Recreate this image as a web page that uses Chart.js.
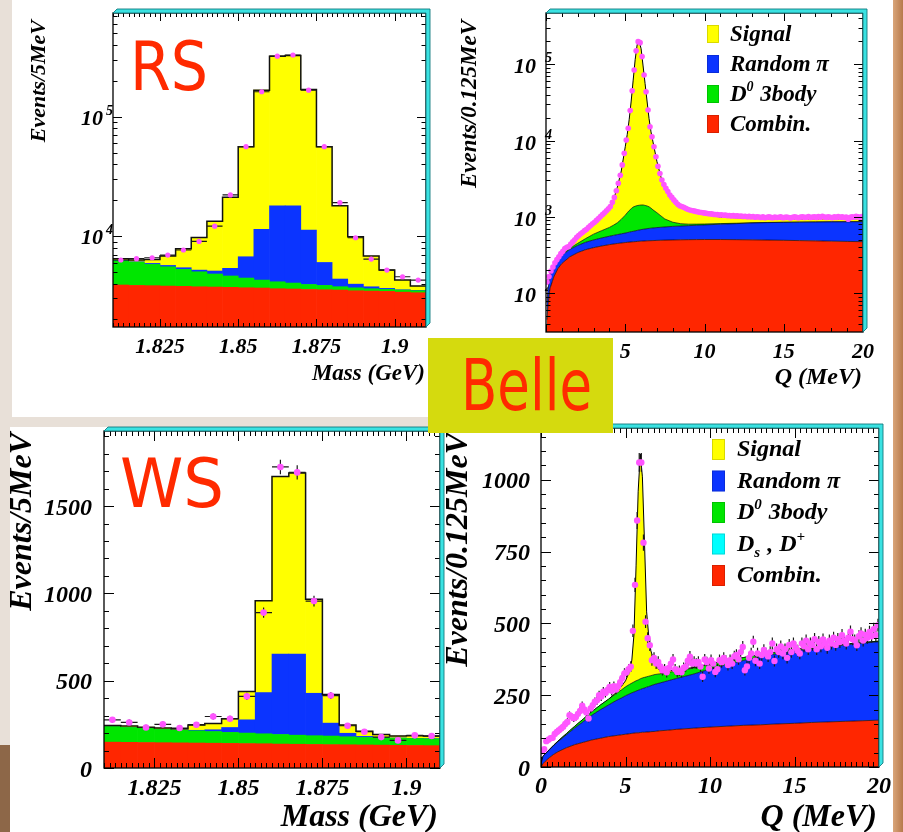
<!DOCTYPE html>
<html><head><meta charset="utf-8"><title>Belle RS / WS D*+ fits</title>
<script src="https://cdn.jsdelivr.net/npm/chart.js@4.4.1/dist/chart.umd.min.js"></script>
<style>
html,body{margin:0;padding:0}
body{width:903px;height:832px;position:relative;overflow:hidden;background:#e8e0d8}
.bg{position:absolute}
canvas{position:absolute;left:0;top:0}
</style></head>
<body>
<div class="bg" style="left:893px;top:0;width:10px;height:832px;background:linear-gradient(90deg,#d9a57a,#b77a4c)"></div>
<div class="bg" style="left:0;top:745px;width:10px;height:87px;background:#8d6748"></div>
<div class="bg" style="left:12px;top:0;width:881px;height:417px;background:#fff"></div>
<div class="bg" style="left:10px;top:427px;width:435px;height:405px;background:#fff"></div>
<div class="bg" style="left:445px;top:413px;width:448px;height:419px;background:#fff"></div>
<canvas id="cA" width="903" height="832"></canvas>
<canvas id="cB" width="903" height="832"></canvas>
<canvas id="cC" width="903" height="832"></canvas>
<canvas id="cD" width="903" height="832"></canvas>
<script>
// ================= categories / tick labels =================
const massBins = [1.8125,1.8175,1.8225,1.8275,1.8325,1.8375,1.8425,1.8475,1.8525,1.8575,1.8625,1.8675,1.8725,1.8775,1.8825,1.8875,1.8925,1.8975,1.9025,1.9075];
const massBinWidth = 0.005;
const qBinWidth = 0.125;
const qBinCount = 160;
const qBins = Array.from({length:qBinCount}, (_,i)=>+(qBinWidth*(i+0.5)).toFixed(4));

const massTickValues = [1.825,1.85,1.875,1.9];
const massTickLabels = ['1.825','1.85','1.875','1.9'];
const qTickValues = [0,5,10,15,20];
const qTickLabels = ['0','5','10','15','20'];
const rsMassYTicks = [1e4,1e5];
const rsMassYLabels = ['10^{4}','10^{5}'];
const rsQYTicks = [1e2,1e3,1e4,1e5];
const rsQYLabels = ['10^{2}','10^{3}','10^{4}','10^{5}'];
const wsMassYTicks = [0,500,1000,1500];
const wsMassYLabels = ['0','500','1000','1500'];
const wsQYTicks = [0,250,500,750,1000];
const wsQYLabels = ['0','250','500','750','1000'];
const rsLegendLabels = ['Signal','Random π','D^{0} 3body','Combin.'];
const wsLegendLabels = ['Signal','Random π','D^{0} 3body','D_{s} , D^{+}','Combin.'];

// ================= RS mass (events / 5 MeV) =================
const rsMassCombin   = [3890,3860,3840,3810,3790,3760,3740,3720,3690,3670,3620,3600,3570,3550,3530,3480,3460,3440,3390,3350];
const rsMassD03body  = [2330,2190,1950,1720,1470,1260,1070,910,760,610,520,440,360,310,235,205,160,135,133,132];
const rsMassRandomPi = [40,40,110,145,170,165,285,735,2260,7090,13800,13900,7290,2150,600,270,140,70,25,22];
const rsMassSignal   = [205,205,470,1120,2400,4560,8190,15740,49400,155600,304000,308000,157800,50100,13600,5900,3040,1550,730,305];
const rsMassData     = [6300,6460,6580,6930,7640,9020,12100,22100,56100,162000,322000,329000,167000,56100,19100,9680,6410,5190,4560,4280];

// ================= WS mass (events / 5 MeV) =================
const wsMassCombin   = [148,147,146,145,144,143,142,141,140,139,137,136,135,134,133,132,131,130,129,128];
const wsMassD03body  = [90,85,81,76,73,70,67,63,60,57,55,52,50,49,46,43,42,41,40,39];
const wsMassRandomPi = [0,0,0,1,1,3,10,28,76,236,461,465,243,74,20,6,3,1,1,1];
const wsMassSignal   = [5,8,7,7,7,30,36,50,162,526,1017,1036,538,164,47,30,16,11,15,15];
const wsMassData     = [276,261,232,250,229,248,295,282,410,890,1724,1693,956,415,242,208,177,158,187,183];

// ================= RS Q (events / 0.125 MeV), fit components at Q nodes =================
const rsQNodes    = [0.0625,0.125,0.25,0.5,0.75,1,1.5,2,2.5,3,3.5,4,4.25,4.5,4.75,5,5.125,5.25,5.375,5.5,5.625,5.75,5.875,6,6.125,6.25,6.375,6.5,6.625,6.75,7,7.25,7.5,8,8.5,9,9.5,10,11,12,13,14,15,16,17,18,19,20];
const rsQCombin   = [45,70,115,165,210,245,300,340,372,395,415,433,441,448,455,461,464,467,470,472,474,477,479,481,483,484,486,487,488,489,492,494,496,499,501,503,504,505,505,503,500,497,493,489,485,481,477,473];
const rsQRandomPi = [30,45,55,60,65,70,74,82,93,104,114,125,131,138,145,153,158,164,170,175,181,188,194,200,205,210,215,220,224,227,232,237,242,252,258,265,272,280,297,313,332,345,355,364,372,380,386,392];
const rsQD03body  = [0,0,1,2,4,7,14,28,55,95,130,170,205,250,330,440,510,580,640,700,725,740,748,750,745,720,690,650,590,520,410,300,200,100,55,35,28,22,15,10,6,4,3,2,2,1,1,1];
const rsQSignal   = [55,37,9,10,9,20,37,105,155,236,381,592,873,1610,3070,7250,10870,17790,31720,60650,113600,178600,198600,158600,93570,54590,31610,18140,11700,8360,4170,2320,1560,880,570,440,350,270,180,150,120,100,90,85,85,85,80,85];
const rsQData = [
  140,165,195,220,250,275,300,330,
  355,385,400,410,440,470,500,540,
  570,600,630,660,690,730,770,810,
  850,900,950,1010,1070,1130,1200,1280,
  1370,1550,1800,2200,2750,3500,4800,6800,
  10200,14500,24700,45000,84000,150000,198000,192000,
  126000,72400,43700,25200,15200,11200,8300,6150,
  4600,3700,3050,2650,2370,2150,1940,1800,
  1670,1560,1460,1400,1370,1340,1300,1260,
  1230,1210,1200,1180,1170,1150,1140,1130,
  1120,1110,1100,1095,1080,1075,1070,1060,
  1065,1050,1055,1040,1045,1030,1040,1025,
  1030,1020,1025,1010,1020,1005,1015,1000,
  1010,990,1005,995,980,1000,975,990,
  1000,985,975,995,980,990,1000,975,
  985,995,980,970,990,1000,985,975,
  995,1005,985,990,1010,980,995,1000,
  985,1010,990,1020,995,985,1005,990,
  975,1000,985,1010,990,1000,980,995,
  930,985,1005,990,1015,1000,990,1010];

// ================= WS Q (events / 0.125 MeV) =================
const wsQNodes    = [0,0.125,0.25,0.5,0.75,1,1.5,2,2.5,3,3.5,4,4.5,4.75,5,5.25,5.375,5.5,5.625,5.75,5.875,6,6.125,6.25,6.375,6.5,6.75,7,7.5,8,9,10,11,12,13,14,15,16,17,18,19,20];
const wsQCombin   = [0,12,20,33,44,53,67,78,86,94,100,106,110,112,114,116,117,118,119,119,120,121,121,122,122,123,124,126,128,131,135,139,142,145,147,150,152,155,157,159,161,163];
const wsQRandomPi = [10,26,25,27,31,35,45,58,72,86,99,110,123,128,134,139,141,143,145,148,150,152,154,156,158,160,164,166,172,177,188,202,215,226,237,245,252,256,261,266,270,273];
const wsQD03body  = [0,0,0,1,1,2,4,6,9,12,16,20,25,28,31,33,34,35,36,36,37,37,37,36,36,35,34,32,29,26,21,17,13,10,8,6,5,4,3,3,2,2];
const wsQDsDplus  = [0,0,0,0,0,0,0,0,0,0,0,0,0,0,0,0,0,0,0,0,0,0,0,0,0,0,0,0,0,0,0,0,0,0,0,0,0,0,0,0,0,0];
const wsQSignal   = [0,0,0,0,0,0,0,0,0,0,0,0,4,12,21,47,80,164,400,657,783,700,468,226,139,87,33,14,6,4,2,1,0,0,0,0,0,0,0,0,0,0];
const wsQData = [
  55,62,90,95,100,102,115,122,
  128,134,140,150,157,180,175,170,
  174,185,195,213,200,190,169,204,
  215,227,232,250,245,262,258,268,
  279,265,281,270,281,295,310,326,
  330,340,349,474,634,858,1060,1060,
  781,506,448,424,372,380,360,366,
  350,337,340,330,345,360,374,340,
  331,335,330,345,350,370,384,360,
  366,360,366,350,314,374,365,343,
  372,360,331,340,372,365,380,370,
  355,372,360,385,390,375,400,418,
  337,350,380,395,436,370,395,360,
  390,407,395,385,400,430,369,410,
  400,420,395,410,380,425,400,430,
  415,405,395,430,420,440,410,430,
  425,445,410,435,420,444,430,415,
  440,430,450,425,445,435,459,440,
  430,450,471,445,440,424,455,465,
  440,460,450,470,455,480,460,494];

// ================= styles =================
const YELLOW='#ffff00', BLUE='#0b34ff', GREEN='#00e600', RED='#ff2600', CYAN='#00ffff', MAGENTA='#ff55ff', HANDRED='#ff2a00';
const SERIF='"Liberation Serif","DejaVu Serif",serif';
const HAND='"DejaVu Sans",sans-serif';
const W=903, H=832;
function fnt(sz){ return `italic bold ${sz}px ${SERIF}`; }
function xy(xs, ys){ return xs.map((x,i)=>({x, y: ys[i]})); }

function parseRich(s){
  const out=[]; let i=0, buf='';
  while(i<s.length){
    const c=s[i];
    if((c==='^'||c==='_') && s[i+1]==='{'){
      if(buf){out.push({t:buf,m:0}); buf='';}
      const j=s.indexOf('}',i);
      out.push({t:s.slice(i+2,j), m: c==='^'?1:-1}); i=j+1;
    } else { buf+=c; i++; }
  }
  if(buf) out.push({t:buf,m:0});
  return out;
}
function drawRich(ctx, s, x, y, size){
  let cx=x;
  for(const g of parseRich(s)){
    const sz = g.m ? Math.round(size*0.62) : size;
    ctx.font = fnt(sz);
    const dy = g.m===1 ? -size*0.40 : (g.m===-1 ? size*0.28 : 0);
    ctx.fillText(g.t, cx, y+dy);
    cx += ctx.measureText(g.t).width + (g.m ? 1 : 0);
  }
}
function linTicks(min, max, step, majors){
  const out=[]; const k0=Math.ceil(min/step-1e-6), k1=Math.floor(max/step+1e-6);
  for(let k=k0;k<=k1;k++){ const v=k*step; out.push([v, majors.some(m=>Math.abs(m-v)<step*1e-3)]); }
  majors.forEach(m=>{ if(!out.some(t=>Math.abs(t[0]-m)<step*1e-3)) out.push([m,true]); });
  return out;
}
function logTicks(min, max){
  const out=[];
  for(let e=Math.floor(Math.log10(min)); e<=Math.ceil(Math.log10(max)); e++)
    for(let k=1;k<=9;k++){ const v=k*Math.pow(10,e); if(v>=min && v<=max) out.push([v, k===1]); }
  return out;
}
function drawHand(ctx, h){
  ctx.save();
  ctx.font = `${h.size}px ${HAND}`;
  const w = ctx.measureText(h.text).width;
  ctx.translate(h.x, h.base); ctx.scale(h.width/w, 1);
  ctx.fillStyle = h.color || HANDRED; ctx.textAlign='left'; ctx.textBaseline='alphabetic';
  ctx.fillText(h.text, 0, 0);
  ctx.restore();
}

function makeRootPlugin(o){
  return {
    id: 'rootStyle',
    beforeDatasetsDraw(chart){
      const ctx=chart.ctx, xs=chart.scales.x, ys=chart.scales.y;
      ctx.save(); ctx.fillStyle='#000'; ctx.textBaseline='alphabetic';
      ctx.font=fnt(o.tickFont); ctx.textAlign='center';
      o.xTicks.forEach((v,i)=>ctx.fillText(o.xLabels[i], xs.getPixelForValue(v), o.xLabelBase));
      o.yTicks.forEach((v,i)=>{
        const py=ys.getPixelForValue(v), segs=parseRich(o.yLabels[i]);
        ctx.font=fnt(o.tickFont); ctx.textAlign='right';
        ctx.fillText(segs[0].t, o.yLabelRight, py+o.yLabelDy);
        if(segs[1]){ ctx.font=fnt(o.expFont); ctx.textAlign='left'; ctx.fillText(segs[1].t, o.expX, py+o.expDy); }
      });
      ctx.restore();
    },
    afterDatasetsDraw(chart){
      const ctx=chart.ctx, a=chart.chartArea, xs=chart.scales.x, ys=chart.scales.y;
      ctx.save();
      ctx.strokeStyle='#000'; ctx.lineWidth=1; ctx.beginPath();
      linTicks(xs.min, xs.max, o.xMinor, o.xTicks).forEach(([v,maj])=>{
        const px=Math.round(xs.getPixelForValue(v))+0.5, L=maj?o.xMaj:o.xMin;
        ctx.moveTo(px,a.bottom); ctx.lineTo(px,a.bottom-L);
        ctx.moveTo(px,a.top); ctx.lineTo(px,a.top+L);
      });
      const yt = o.yLog ? logTicks(ys.min, ys.max) : linTicks(ys.min, ys.max, o.yMinor, o.yTicks);
      yt.forEach(([v,maj])=>{
        const py=Math.round(ys.getPixelForValue(v))+0.5, L=maj?o.yMaj:o.yMin;
        ctx.moveTo(a.left,py); ctx.lineTo(a.left+L,py);
        ctx.moveTo(a.right,py); ctx.lineTo(a.right-L,py);
      });
      ctx.stroke();
      ctx.lineWidth=1.3; ctx.strokeRect(a.left, a.top, a.right-a.left, a.bottom-a.top);
      const d=4;
      ctx.beginPath();
      ctx.moveTo(a.left,a.top); ctx.lineTo(a.left+d,a.top-d); ctx.lineTo(a.right+d,a.top-d);
      ctx.lineTo(a.right+d,a.bottom-d); ctx.lineTo(a.right,a.bottom); ctx.lineTo(a.right,a.top); ctx.closePath();
      ctx.fillStyle='#3ae2e2'; ctx.fill();
      ctx.strokeStyle='#137a80'; ctx.lineWidth=0.9; ctx.stroke();
      if(o.legend){
        const L=o.legend;
        ctx.textAlign='left'; ctx.textBaseline='alphabetic';
        L.items.forEach((it,i)=>{
          const top=L.top+i*L.dy;
          ctx.fillStyle=it.color; ctx.fillRect(L.x, top, L.w, L.h);
          ctx.strokeStyle='rgba(0,0,0,0.25)'; ctx.lineWidth=0.6; ctx.strokeRect(L.x+0.5, top+0.5, L.w-1, L.h-1);
          ctx.fillStyle='#000'; drawRich(ctx, it.label, L.tx, top+L.base, L.font);
        });
      }
      ctx.restore();
    },
    afterDraw(chart){
      const ctx=chart.ctx;
      ctx.save(); ctx.fillStyle='#000';
      ctx.font=fnt(o.yTitleFont);
      ctx.save(); ctx.translate(o.yTitleX, o.yTitleTop); ctx.rotate(-Math.PI/2);
      ctx.textAlign='right'; ctx.textBaseline='middle'; ctx.fillText(o.yTitle,0,0); ctx.restore();
      ctx.font=fnt(o.xTitleFont); ctx.textAlign='right'; ctx.textBaseline='alphabetic';
      ctx.fillText(o.xTitle, o.xTitleRight, o.xTitleBase);
      if(o.hand) drawHand(ctx, o.hand);
      if(o.belle){
        const b=o.belle;
        ctx.fillStyle='#d5da0e'; ctx.fillRect(b.x, b.y, b.w, b.h);
        drawHand(ctx, b.label);
      }
      ctx.restore();
    }
  };
}

const errorBarPlugin = {
  id: 'errorBars',
  beforeDatasetDraw(chart, args){
    const ds=chart.data.datasets[args.index];
    if(!ds.errorBars) return;
    const ctx=chart.ctx, xs=chart.scales.x, ys=chart.scales.y, a=chart.chartArea, eb=ds.errorBars;
    ctx.save(); ctx.beginPath(); ctx.rect(a.left,a.top,a.right-a.left,a.bottom-a.top); ctx.clip();
    ctx.strokeStyle='#1a1a1a'; ctx.lineWidth=eb.width||1.2; ctx.beginPath();
    ds.data.forEach(p=>{
      const px=xs.getPixelForValue(p.x), py=ys.getPixelForValue(p.y);
      if(eb.xHalf){ ctx.moveTo(xs.getPixelForValue(p.x-eb.xHalf), py); ctx.lineTo(xs.getPixelForValue(p.x+eb.xHalf), py); }
      if(eb.poisson){ const e=Math.sqrt(p.y); ctx.moveTo(px, ys.getPixelForValue(p.y-e)); ctx.lineTo(px, ys.getPixelForValue(p.y+e)); }
    });
    ctx.stroke(); ctx.restore();
  }
};

function baseOptions(area, xCfg, yCfg){
  return {
    responsive:false, animation:false, events:[], devicePixelRatio:1,
    layout:{padding:{left:area[0], top:area[1], right:W-area[2], bottom:H-area[3]}},
    scales:{ x:Object.assign({display:false, offset:false}, xCfg), y:Object.assign({display:false}, yCfg) },
    plugins:{legend:{display:false}, tooltip:{enabled:false}}
  };
}

function massChart(id, area, comps, data, yCfg, dotR, frame){
  const totals = massBins.map((_,i)=>comps.reduce((s,c)=>s+c.values[i],0));
  const edges = massBins.map(c=>c-massBinWidth/2).concat([massBins[massBins.length-1]+massBinWidth/2]);
  const outline = edges.map((x,i)=>({x, y: totals[Math.min(i,totals.length-1)]}));
  const datasets = comps.map(c=>({type:'bar', label:c.label, data:xy(massBins,c.values), backgroundColor:c.color,
    borderWidth:0, barPercentage:1, categoryPercentage:1, stack:'fit'}));
  datasets.push({type:'line', label:'Fit', data:outline, stepped:true, borderColor:'#111', borderWidth:1.5,
    pointRadius:0, fill:false, stack:'outline', order:-1});
  datasets.push({type:'line', label:'Data', data:xy(massBins,data), showLine:false, pointRadius:dotR,
    pointBackgroundColor:MAGENTA, pointBorderColor:MAGENTA, pointBorderWidth:0, stack:'data', order:-2,
    errorBars:{xHalf:massBinWidth/2, poisson:true}});
  return new Chart(document.getElementById(id), {
    type:'bar', data:{datasets},
    options: baseOptions(area, {type:'linear', min:1.81, max:1.91}, yCfg),
    plugins:[makeRootPlugin(frame), errorBarPlugin]
  });
}

function qChart(id, area, nodes, comps, data, yCfg, dotR, errBars, frame){
  const datasets = comps.map((c,i)=>({type:'line', label:c.label, data:xy(nodes,c.values),
    backgroundColor:c.color, borderColor:c.border||'rgba(0,0,0,0.65)', borderWidth:c.bw===undefined?1:c.bw,
    pointRadius:0, fill: i===0 ? (yCfg.type==='logarithmic'?'start':'origin') : '-1', stack:'fit', tension:0}));
  datasets.push({type:'line', label:'Data', data:xy(qBins,data), showLine:false, pointRadius:dotR,
    pointBackgroundColor:MAGENTA, pointBorderColor:MAGENTA, pointBorderWidth:0, stack:'data', order:-1,
    errorBars: errBars});
  return new Chart(document.getElementById(id), {
    type:'line', data:{datasets},
    options: baseOptions(area, {type:'linear', min:0, max:20}, yCfg),
    plugins:[makeRootPlugin(frame), errorBarPlugin]
  });
}

// ---------- Panel A : RS mass ----------
massChart('cA', [113,13,426,327], [
  {label:'Combin.', values:rsMassCombin, color:RED},
  {label:'D0 3body', values:rsMassD03body, color:GREEN},
  {label:'Random pi', values:rsMassRandomPi, color:BLUE},
  {label:'Signal', values:rsMassSignal, color:YELLOW}
], rsMassData, {type:'logarithmic', min:1730, max:740000}, 2.6, {
  xTicks:massTickValues, xLabels:massTickLabels, xMinor:0.025/15, xMaj:8, xMin:4,
  yTicks:rsMassYTicks, yLabels:rsMassYLabels, yLog:true, yMaj:9, yMin:4.5,
  tickFont:22, xLabelBase:353, yLabelRight:103, yLabelDy:8, expFont:14, expX:106, expDy:-2,
  yTitle:'Events/5MeV', yTitleX:39, yTitleTop:20, yTitleFont:22,
  xTitle:'Mass (GeV)', xTitleRight:425, xTitleBase:380, xTitleFont:23,
  hand:{text:'RS', x:130, base:90, size:68, width:78}
});

// ---------- Panel B : RS Q ----------
qChart('cB', [546,13,863,332], rsQNodes, [
  {label:'Combin.', values:rsQCombin, color:RED},
  {label:'Random pi', values:rsQRandomPi, color:BLUE},
  {label:'D0 3body', values:rsQD03body, color:GREEN},
  {label:'Signal', values:rsQSignal, color:YELLOW, border:'#000'}
], rsQData, {type:'logarithmic', min:31, max:470000}, 2.8, null, {
  xTicks:qTickValues, xLabels:qTickLabels, xMinor:1, xMaj:8, xMin:4,
  yTicks:rsQYTicks, yLabels:rsQYLabels, yLog:true, yMaj:9, yMin:4.5,
  tickFont:22, xLabelBase:358, yLabelRight:536, yLabelDy:9, expFont:14, expX:545, expDy:-2,
  yTitle:'Events/0.125MeV', yTitleX:470, yTitleTop:20, yTitleFont:23,
  xTitle:'Q (MeV)', xTitleRight:862, xTitleBase:384, xTitleFont:24,
  legend:{x:707, top:25, dy:30, w:12, h:18, tx:730, base:15.5, font:23,
    items:[YELLOW,BLUE,GREEN,RED].map((c,i)=>({color:c, label:rsLegendLabels[i]}))}
});

// ---------- Panel C : WS mass ----------
massChart('cC', [104,431,440,768], [
  {label:'Combin.', values:wsMassCombin, color:RED},
  {label:'D0 3body', values:wsMassD03body, color:GREEN},
  {label:'Random pi', values:wsMassRandomPi, color:BLUE},
  {label:'Signal', values:wsMassSignal, color:YELLOW}
], wsMassData, {type:'linear', min:0, max:1930}, 3.3, {
  xTicks:massTickValues, xLabels:massTickLabels, xMinor:0.025/15, xMaj:10, xMin:5,
  yTicks:wsMassYTicks, yLabels:wsMassYLabels, yLog:false, yMinor:100, yMaj:10, yMin:5,
  tickFont:24, xLabelBase:795, yLabelRight:92, yLabelDy:8.5, expFont:14, expX:0, expDy:0,
  yTitle:'Events/5MeV', yTitleX:23, yTitleTop:433, yTitleFont:32,
  xTitle:'Mass (GeV)', xTitleRight:438, xTitleBase:826, xTitleFont:32,
  hand:{text:'WS', x:120, base:507, size:68, width:104}
});

// ---------- Panel D : WS Q ----------
qChart('cD', [541,428,879,767], wsQNodes, [
  {label:'Combin.', values:wsQCombin, color:RED},
  {label:'Random pi', values:wsQRandomPi, color:BLUE},
  {label:'D0 3body', values:wsQD03body, color:GREEN},
  {label:'Ds, D+', values:wsQDsDplus, color:CYAN, bw:0},
  {label:'Signal', values:wsQSignal, color:YELLOW, border:'#000'}
], wsQData, {type:'linear', min:0, max:1180}, 3.2, {xHalf:qBinWidth/2, poisson:true}, {
  xTicks:qTickValues, xLabels:qTickLabels, xMinor:1/3, xMaj:10, xMin:5,
  yTicks:wsQYTicks, yLabels:wsQYLabels, yLog:false, yMinor:50, yMaj:10, yMin:5,
  tickFont:24, xLabelBase:793, yLabelRight:530, yLabelDy:8.5, expFont:14, expX:0, expDy:0,
  yTitle:'Events/0.125MeV', yTitleX:459, yTitleTop:433, yTitleFont:32,
  xTitle:'Q (MeV)', xTitleRight:877, xTitleBase:826, xTitleFont:32,
  legend:{x:712, top:439, dy:31.5, w:13, h:21, tx:737, base:17, font:24,
    items:[YELLOW,BLUE,GREEN,CYAN,RED].map((c,i)=>({color:c, label:wsLegendLabels[i]}))},
  belle:{x:428, y:338, w:185, h:95, label:{text:'Belle', x:461, base:410, size:71, width:131}}
});
</script>
</body></html>
